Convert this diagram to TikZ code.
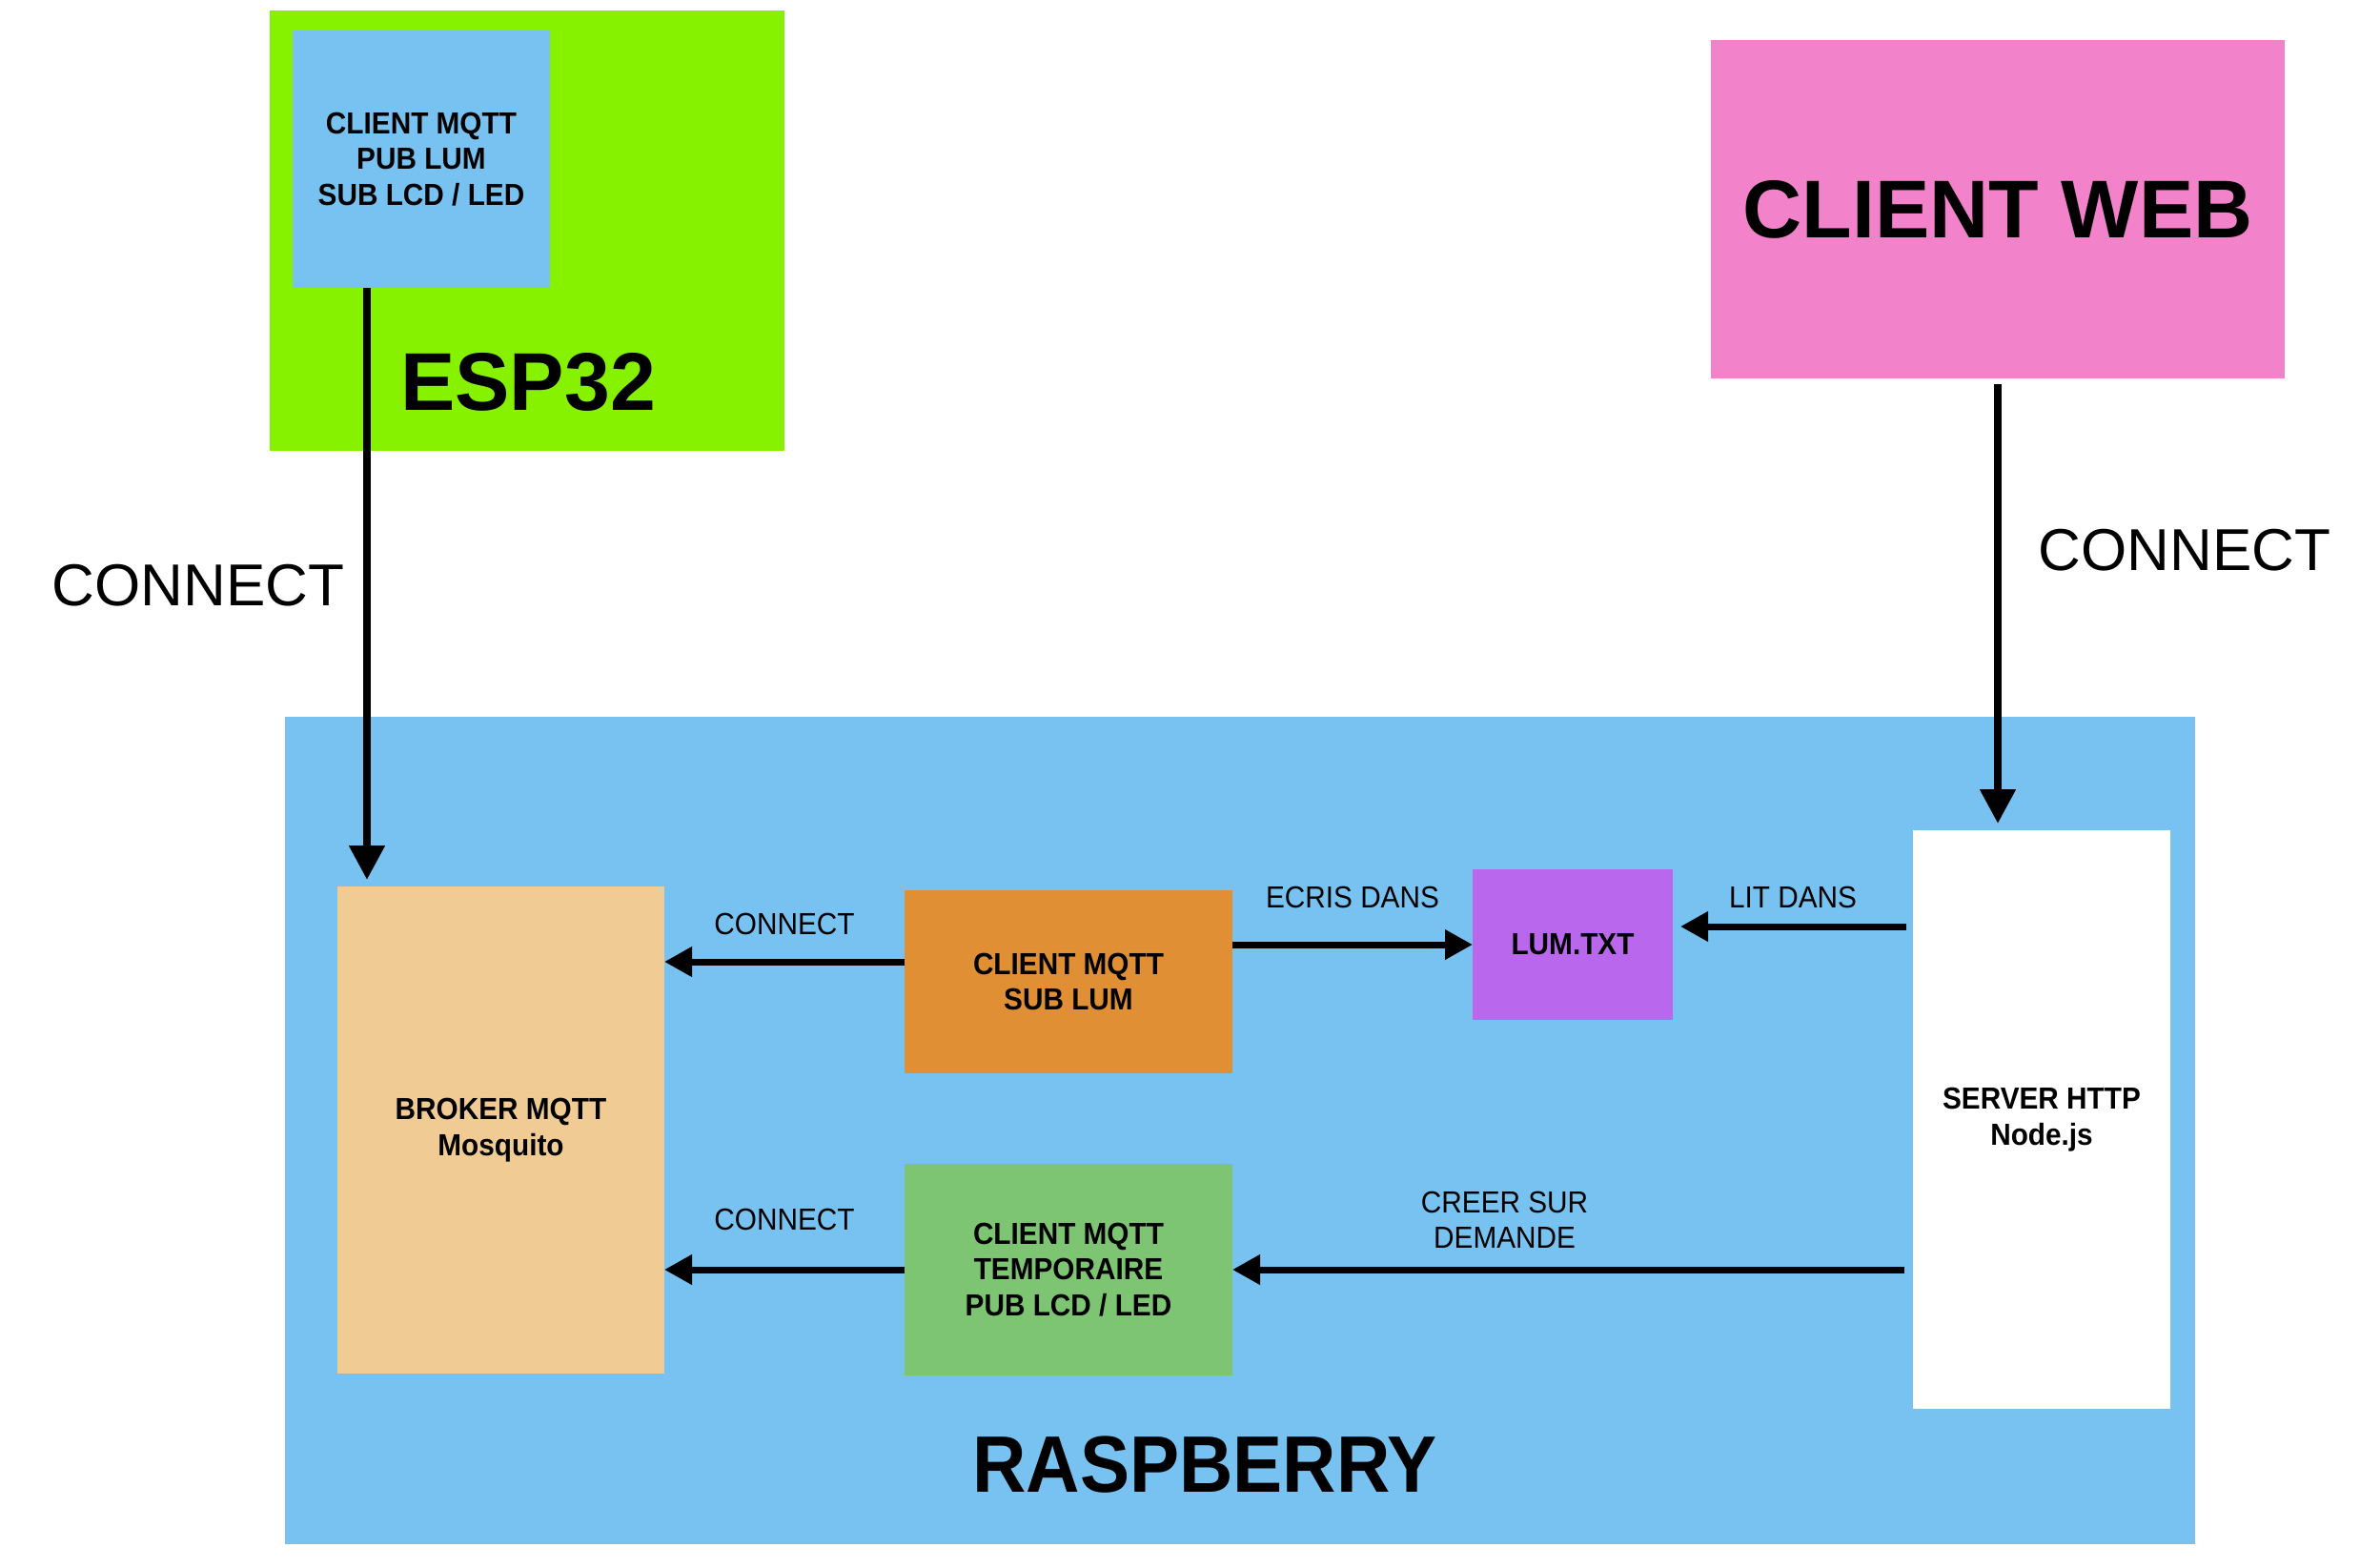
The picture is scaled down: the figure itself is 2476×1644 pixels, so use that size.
\documentclass[tikz,border=0pt]{standalone}
\usepackage{fontspec}
\setmainfont{Liberation Sans}
\newfontfamily\narrowfont[FakeStretch=0.93]{Liberation Sans}
\usetikzlibrary{arrows.meta}

\definecolor{espgreen}{RGB}{134,242,0}
\definecolor{skyblue}{RGB}{119,194,240}
\definecolor{webpink}{RGB}{242,130,201}
\definecolor{brokertan}{RGB}{240,204,148}
\definecolor{suborange}{RGB}{224,143,53}
\definecolor{lumpurple}{RGB}{185,104,238}
\definecolor{tempgreen}{RGB}{125,196,115}

\begin{document}
\begin{tikzpicture}[x=1pt,y=-1pt,
    bloc/.style={inner sep=0pt, outer sep=0pt, align=center, font=\narrowfont\bfseries\fontsize{32}{37.5}\selectfont},
    lbl/.style={inner sep=0pt, align=center, font=\narrowfont\fontsize{32}{37}\selectfont},
    title/.style={inner sep=0pt, font=\bfseries\fontsize{86}{86}\selectfont},
    biglbl/.style={inner sep=0pt, font=\fontsize{62}{62}\selectfont},
    bigarrow/.style={line width=8pt, -{Triangle[width=36pt,length=36pt]}},
    arrow/.style={line width=7pt, -{Triangle[width=30pt,length=29pt]}}]

    \useasboundingbox (0,0) rectangle (2476,1644);

    % ESP32
    \node[bloc, fill=espgreen, minimum width=540pt, minimum height=462pt] (esp) at (553,242) {};
    \node[bloc, fill=skyblue, minimum width=270pt, minimum height=270pt] (cltesp) at (442,167) {CLIENT MQTT\\PUB LUM\\SUB LCD / LED};
    \node[title] (esplbl) at (554,401) {ESP32};

    % client web
    \node[title, fill=webpink, minimum width=602pt, minimum height=355pt] (web) at (2096,219.5) {CLIENT WEB};

    % raspberry
    \node[bloc, fill=skyblue, minimum width=2004pt, minimum height=868pt] (rasp) at (1301,1186) {};
    \node[title, font=\narrowfont\bfseries\fontsize{84}{84}\selectfont] (rasplbl) at (1264,1537) {RASPBERRY};

    \node[bloc, fill=brokertan, minimum width=343pt, minimum height=511pt] (broker) at (525.5,1185.5) {BROKER MQTT\\Mosquito};
    \node[bloc, fill=suborange, minimum width=344pt, minimum height=192pt] (subl) at (1121,1030) {CLIENT MQTT\\SUB LUM};
    \node[bloc, fill=tempgreen, minimum width=344pt, minimum height=222pt] (temp) at (1121,1332) {CLIENT MQTT\\TEMPORAIRE\\PUB LCD / LED};
    \node[bloc, fill=lumpurple, minimum width=210pt, minimum height=158pt] (lum) at (1650,991) {LUM.TXT};
    \node[bloc, fill=white, minimum width=270pt, minimum height=607pt] (server) at (2142,1174.5) {SERVER HTTP\\Node.js};

    \coordinate (espout) at ([xshift=78pt]cltesp.south west);
    \coordinate (webout) at ([yshift=-6pt]web.south);
    \coordinate (sublout) at ([yshift=21pt]subl.west);
    \coordinate (lumin) at ([yshift=19pt]lum.east);

    \draw[bigarrow, shorten >=7pt] (espout) -- (espout |- broker.north);
    \draw[bigarrow, shorten >=7pt] (webout) -- (webout |- server.north);
    \node[biglbl] (espcon) at (208,614) {CONNECT};
    \node[biglbl] (webcon) at (2292,577) {CONNECT};

    \draw[arrow] (sublout) -- (sublout -| broker.east) node[midway, above=25pt, lbl] {CONNECT};
    \draw[arrow] (temp.west) -- (temp.west -| broker.east) node[midway, above=38pt, lbl] {CONNECT};
    \draw[arrow] (subl.east |- lum.west) -- (lum.west) node[midway, above=35pt, lbl] {ECRIS DANS};
    \draw[arrow, shorten <=7pt, shorten >=8pt] (lumin -| server.west) -- (lumin) node[midway, above=16pt, lbl] {LIT DANS};
    \draw[arrow, shorten <=9pt] (temp.east -| server.west) -- (temp.east) node[pos=0.6, above=19pt, lbl] {CREER SUR\\DEMANDE};

\end{tikzpicture}
\end{document}
